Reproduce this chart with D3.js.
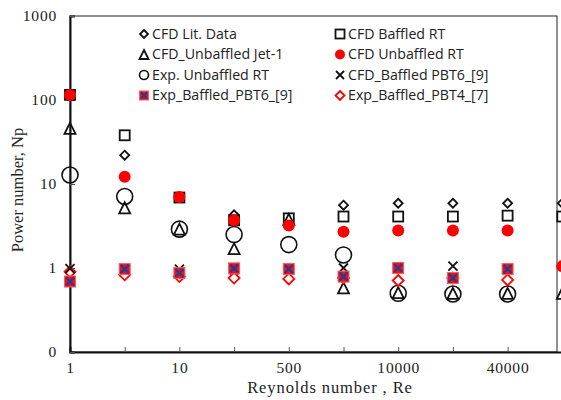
<!DOCTYPE html>
<html>
<head>
<meta charset="utf-8">
<script src="https://cdn.jsdelivr.net/npm/d3@7"></script>
<style>
  body { margin: 0; background: #fff; }
  .tick text { font-family: "Liberation Serif", "DejaVu Serif", serif; }
  .legend text { font-family: "Open Sans", "Liberation Sans", sans-serif; }
</style>
</head>
<body>
<svg id="chart" width="561" height="400"></svg>
<script>
// categories along the Reynolds axis (only every other one is labelled)
var reLabels = ["1", "", "10", "", "500", "", "10000", "", "40000", ""];
var yTicks = [0.1, 1, 10, 100, 1000];
var yTickLabels = ["0", "1", "10", "100", "1000"];

// power number values, one per category (null = no point)
var cfdLitData      = [null, 22, null, 4.3, 3.9, 5.6, 5.9, 5.9, 5.9, 5.9];
var cfdBaffledRT    = [115, 38, 6.9, 3.7, 3.9, 4.1, 4.1, 4.1, 4.2, 4.1];
var cfdUnbaffledJet = [46, 5.2, 2.9, 1.7, 3.8, 0.58, 0.51, 0.5, 0.5, 0.5];
var cfdUnbaffledRT  = [115, 12.2, 7, 3.7, 3.2, 2.7, 2.8, 2.8, 2.8, 1.05];
var expUnbaffledRT  = [12.8, 7.1, 2.9, 2.5, 1.9, 1.43, 0.5, 0.49, 0.49, null];
var cfdBaffledPBT6  = [0.98, 0.95, 0.97, 0.95, 0.95, 1.0, 0.97, 1.05, 0.97, null];
var expBaffledPBT6  = [0.69, 0.97, 0.87, 0.99, 0.97, 0.79, 1.0, 0.76, 0.97, null];
var expBaffledPBT4  = [0.9, 0.83, 0.79, 0.76, 0.74, 0.76, 0.71, 0.76, 0.72, null];

var margin = {top: 16, right: 4, bottom: 48, left: 70},
  width = 561 - margin.left - margin.right,
  height = 400 - margin.top - margin.bottom;

var svg = d3.select("#chart");
var g = svg.append("g").attr("transform", "translate(" + margin.left + "," + margin.top + ")");

var x = d3.scaleLinear().domain([0, 9]).range([0, 54.7 * 9]);
var y = d3.scaleLog().domain([0.1, 1000]).range([height, 0]);

// frame
g.append("rect").attr("width", width).attr("height", height)
  .attr("fill", "none").attr("stroke", "#222").attr("stroke-width", 1);

// axes
var xAxis = d3.axisBottom(x).tickValues(d3.range(reLabels.length))
  .tickSize(-5).tickPadding(10).tickFormat(function (d) { return reLabels[d]; });
var gx = g.append("g").attr("transform", "translate(0," + height + ")").call(xAxis);

var yAxis = d3.axisLeft(y).tickValues(yTicks).tickSize(-5).tickPadding(13)
  .tickFormat(function (d, i) { return yTickLabels[i]; });
var gy = g.append("g").call(yAxis);

[gx, gy].forEach(function (a) {
  a.select(".domain").attr("stroke", "#111").attr("stroke-width", 2);
  a.selectAll(".tick line").attr("stroke", "#555");
  a.selectAll(".tick text").attr("fill", "#222").style("font-size", "15.5px").style("letter-spacing", "0.8px");
});

// axis titles
svg.append("text").attr("x", 330).attr("y", 393).attr("text-anchor", "middle")
  .style("font-family", "Liberation Serif, serif").style("font-size", "16.5px")
  .style("letter-spacing", "0.9px").attr("fill", "#222").text("Reynolds number , Re");
svg.append("text").attr("transform", "translate(23,190) rotate(-90)").attr("text-anchor", "middle")
  .style("font-family", "Liberation Serif, serif").style("font-size", "16.5px")
  .attr("fill", "#222").text("Power number, Np");

// marker drawing
function marker(sel, type, s) {
  var h = s / 2;
  if (type == "diamond" || type == "rdiamond") {
    sel.append("path").attr("d", "M0," + (-h) + "L" + h + ",0L0," + h + "L" + (-h) + ",0Z")
      .attr("fill", "#fff").attr("stroke", type == "diamond" ? "#111" : "#f00").attr("stroke-width", 1.8);
  } else if (type == "square") {
    sel.append("rect").attr("x", -h).attr("y", -h).attr("width", s).attr("height", s)
      .attr("fill", "#fff").attr("stroke", "#111").attr("stroke-width", 1.8);
  } else if (type == "triangle") {
    sel.append("path").attr("d", "M0," + (-h) + "L" + h + "," + h + "L" + (-h) + "," + h + "Z")
      .attr("fill", "none").attr("stroke", "#111").attr("stroke-width", 1.8);
  } else if (type == "dot") {
    sel.append("circle").attr("r", h).attr("fill", "#f00");
  } else if (type == "circle") {
    sel.append("circle").attr("r", h).attr("fill", "none").attr("stroke", "#111").attr("stroke-width", 1.6);
  } else if (type == "x") {
    sel.append("path").attr("d", "M" + (-h) + "," + (-h) + "L" + h + "," + h + "M" + h + "," + (-h) + "L" + (-h) + "," + h)
      .attr("stroke", "#111").attr("stroke-width", 1.8);
  } else if (type == "xsquare") {
    sel.append("rect").attr("x", -h).attr("y", -h).attr("width", s).attr("height", s)
      .attr("fill", "#e8151f").attr("stroke", "#ff5a5a").attr("stroke-width", 1);
    var k = h - 1.5;
    sel.append("path").attr("d", "M" + (-k) + "," + (-k) + "L" + k + "," + k + "M" + k + "," + (-k) + "L" + (-k) + "," + k)
      .attr("stroke", "#2a3a8c").attr("stroke-width", 2.2);
  }
}

var series = [
  {name: "CFD Lit. Data", values: cfdLitData, type: "diamond", size: 9, legendSize: 8},
  {name: "CFD Baffled RT", values: cfdBaffledRT, type: "square", size: 10, legendSize: 9},
  {name: "CFD_Unbaffled Jet-1", values: cfdUnbaffledJet, type: "triangle", size: 11, legendSize: 9},
  {name: "CFD Unbaffled RT", values: cfdUnbaffledRT, type: "dot", size: 12, legendSize: 10},
  {name: "Exp. Unbaffled RT", values: expUnbaffledRT, type: "circle", size: 16, legendSize: 9},
  {name: "Exp_Baffled_PBT4_[7]", values: expBaffledPBT4, type: "rdiamond", size: 11, legendSize: 9},
  {name: "CFD_Baffled PBT6_[9]", values: cfdBaffledPBT6, type: "x", size: 9, legendSize: 8},
  {name: "Exp_Baffled_PBT6_[9]", values: expBaffledPBT6, type: "xsquare", size: 11, legendSize: 9}
];

series.forEach(function (s) {
  var pts = s.values.map(function (v, i) { return {i: i, v: v}; }).filter(function (d) { return d.v != null; });
  g.selectAll(null).data(pts).enter().append("g")
    .attr("transform", function (d) { return "translate(" + x(d.i) + "," + y(d.v) + ")"; })
    .each(function () { marker(d3.select(this), s.type, s.size); });
});

// legend, two columns in the order of the original
var legendOrder = ["CFD Lit. Data", "CFD Baffled RT", "CFD_Unbaffled Jet-1", "CFD Unbaffled RT",
  "Exp. Unbaffled RT", "CFD_Baffled PBT6_[9]", "Exp_Baffled_PBT6_[9]", "Exp_Baffled_PBT4_[7]"];
var legend = svg.append("g").attr("class", "legend");
legendOrder.forEach(function (name, i) {
  var s = series.find(function (d) { return d.name == name; });
  var col = i % 2, row = Math.floor(i / 2);
  var item = legend.append("g").attr("transform", "translate(" + (col ? 340 : 144) + "," + (34 + row * 20.5) + ")");
  marker(item, s.type, s.legendSize);
  item.append("text").attr("x", 8).attr("dy", "0.35em").style("font-size", "14.2px").attr("fill", "#222").text(name);
});
</script>
</body>
</html>
